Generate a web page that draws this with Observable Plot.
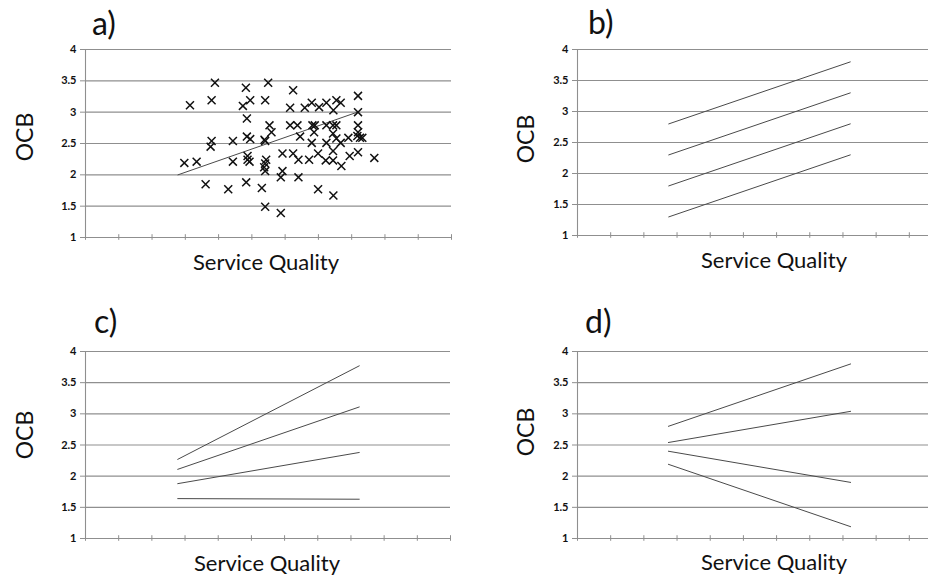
<!DOCTYPE html>
<html>
<head>
<meta charset="utf-8">
<script src="https://cdn.jsdelivr.net/npm/d3@7"></script>
<script src="https://cdn.jsdelivr.net/npm/@observablehq/plot@0.6"></script>
<style>
html,body{margin:0;padding:0;background:#fff;overflow:hidden;}
#wrap{position:relative;width:928px;height:577px;overflow:hidden;font-family:Lato,"Open Sans",sans-serif;}
.panel{position:absolute;overflow:visible;}
.panel svg{max-width:none !important;}
#overlay{position:absolute;left:0;top:0;pointer-events:none;}
</style>
</head>
<body>
<div id="wrap"></div>
<script>
// ---- data ----
const xTicks = [0,1,2,3,4,5,6,7,8,9,10,11];
const yTicks = [1,1.5,2,2.5,3,3.5,4];
const panelLetters = ["a)","b)","c)","d)"];
const xLabel = "Service Quality";
const yLabel = "OCB";

// panel a: scatter of service quality vs OCB
const sqX = [3.89,3.14,3.79,2.97,3.34,3.79,3.76,3.61,4.29,4.43,4.43,4.82,4.73,4.95,4.85,4.85,4.95,4.87,4.87,4.93,4.83,
  5.40,5.49,5.38,5.40,5.53,5.59,5.43,5.40,5.37,5.40,5.30,5.40,5.92,5.92,5.87,5.87,6.24,6.15,6.15,6.37,6.24,6.40,6.40,6.45,
  6.59,6.80,6.82,6.89,6.87,6.80,6.72,7.02,6.99,6.99,7.24,7.24,7.24,7.22,7.45,7.54,7.67,7.44,7.54,7.44,7.54,7.44,7.44,7.45,
  7.67,7.69,7.90,7.94,8.19,8.19,8.19,8.19,8.17,8.25,8.32,8.19,8.68];
const ocbY = [3.47,3.11,3.19,2.19,2.21,2.54,2.45,1.85,1.77,2.54,2.21,3.39,3.10,3.19,2.90,2.61,2.57,2.30,2.24,2.21,1.88,
  3.19,3.47,2.56,2.54,2.79,2.68,2.24,2.18,2.12,2.06,1.79,1.49,2.34,2.06,1.96,1.39,3.35,3.07,2.79,2.79,2.34,2.24,1.96,2.61,
  3.07,3.15,2.79,2.79,2.68,2.51,2.24,3.08,2.34,1.77,3.15,2.79,2.51,2.23,3.03,3.19,3.15,2.79,2.79,2.66,2.58,2.38,2.23,1.67,
  2.51,2.14,2.59,2.30,3.26,3.00,2.79,2.68,2.62,2.59,2.59,2.36,2.27];
const fitAX = [2.78, 8.17];
const fitAY = [2.0, 3.0];

// panel b: parallel slopes
const bX = [2.75, 8.22];
const bStart = [2.8, 2.3, 1.8, 1.3];
const bEnd = [3.8, 3.3, 2.8, 2.3];
// panel c: fanning, all non-negative slopes
const cX = [2.78, 8.25];
const cStart = [2.27, 2.11, 1.88, 1.64];
const cEnd = [3.77, 3.11, 2.38, 1.63];
// panel d: fanning, positive and negative slopes
const dX = [2.74, 8.23];
const dStart = [2.80, 2.54, 2.40, 2.19];
const dEnd = [3.80, 3.04, 1.90, 1.19];

// ---- build ----
const GRID = "#8f8f8f", LINE = "#4a4a4a";

function lineRows(xs, starts, ends) {
  const rows = [];
  starts.forEach((s, i) => {
    rows.push({g: i, x: xs[0], y: s});
    rows.push({g: i, x: xs[1], y: ends[i]});
  });
  return rows;
}

function makePanel(cfg) {
  const marks = [
    Plot.ruleY(yTicks, {stroke: GRID, strokeWidth: 1.1}),
    Plot.ruleX([0], {stroke: GRID, strokeWidth: 1.1}),
    Plot.ruleX(xTicks, {x: d => d, y1: 0.955, y2: 1.045, stroke: GRID, strokeWidth: 1}),
    Plot.axisY({ticks: yTicks, tickFormat: d => String(d), tickSize: 5, tickPadding: 4,
      stroke: GRID, fill: "#111", fontSize: 11, fontWeight: "bold", label: null}),
    ...cfg.marks
  ];
  const chart = Plot.plot({
    width: cfg.width, height: cfg.height,
    marginLeft: cfg.ml, marginRight: cfg.mr, marginTop: cfg.mt, marginBottom: cfg.mb,
    style: {fontFamily: "Lato, 'Open Sans', sans-serif", background: "transparent", overflow: "visible", maxWidth: "none"},
    x: {domain: [0, 11], axis: null},
    y: {domain: [1, 4]},
    marks
  });
  d3.select(chart).selectAll("text").attr("font-weight", "bold").style("font-weight", "700");
  return chart;
}

const wrap = document.getElementById("wrap");
function place(el, left, top, w, h) {
  const d = document.createElement("div");
  d.className = "panel";
  d.style.left = left + "px"; d.style.top = top + "px";
  d.style.width = w + "px"; d.style.height = h + "px";
  d.appendChild(el); wrap.appendChild(d);
}

const scatter = sqX.map((x, i) => ({x, y: ocbY[i]}));
const fitRows = fitAX.map((x, i) => ({x, y: fitAY[i]}));

place(makePanel({width: 464, height: 290, ml: 85, mr: 13, mt: 49, mb: 53, marks: [
  Plot.line(fitRows, {x: "x", y: "y", stroke: LINE, strokeWidth: 1}),
  Plot.dot(scatter, {x: "x", y: "y", symbol: "times", r: 3.7, stroke: "#111", strokeWidth: 1.5})
]}), 0, 0, 464, 290);

place(makePanel({width: 490, height: 290, ml: 113, mr: 12, mt: 49, mb: 55, marks: [
  Plot.line(lineRows(bX, bStart, bEnd), {x: "x", y: "y", z: "g", stroke: LINE, strokeWidth: 1})
]}), 464, 0, 490, 290);

place(makePanel({width: 464, height: 287, ml: 85, mr: 14, mt: 61, mb: 39, marks: [
  Plot.line(lineRows(cX, cStart, cEnd), {x: "x", y: "y", z: "g", stroke: LINE, strokeWidth: 1})
]}), 0, 290, 464, 287);

place(makePanel({width: 490, height: 287, ml: 113, mr: 12, mt: 61, mb: 39, marks: [
  Plot.line(lineRows(dX, dStart, dEnd), {x: "x", y: "y", z: "g", stroke: LINE, strokeWidth: 1})
]}), 464, 290, 490, 287);

// ---- text overlay ----
const svg = d3.select(wrap).append("svg").attr("id", "overlay")
  .attr("width", 928).attr("height", 577)
  .style("font-family", "Lato, 'Open Sans', sans-serif");

const letterPos = [[92, 35], [588, 34], [94, 333], [585, 333]];
panelLetters.forEach((t, i) => {
  svg.append("text").attr("x", letterPos[i][0]).attr("y", letterPos[i][1])
    .attr("font-size", 32).attr("fill", "#111").text(t);
});
const xLabPos = [[266, 270], [774, 268], [267, 571], [774, 570]];
xLabPos.forEach(p => {
  svg.append("text").attr("x", p[0]).attr("y", p[1]).attr("text-anchor", "middle")
    .attr("font-size", 22).attr("fill", "#111").text(xLabel);
});
const yLabPos = [[33, 137], [534, 139], [33, 435], [534, 432]];
yLabPos.forEach(p => {
  svg.append("text").attr("transform", `translate(${p[0]},${p[1]}) rotate(-90)`)
    .attr("text-anchor", "middle").attr("font-size", 23).attr("fill", "#111").text(yLabel);
});
</script>
</body>
</html>
